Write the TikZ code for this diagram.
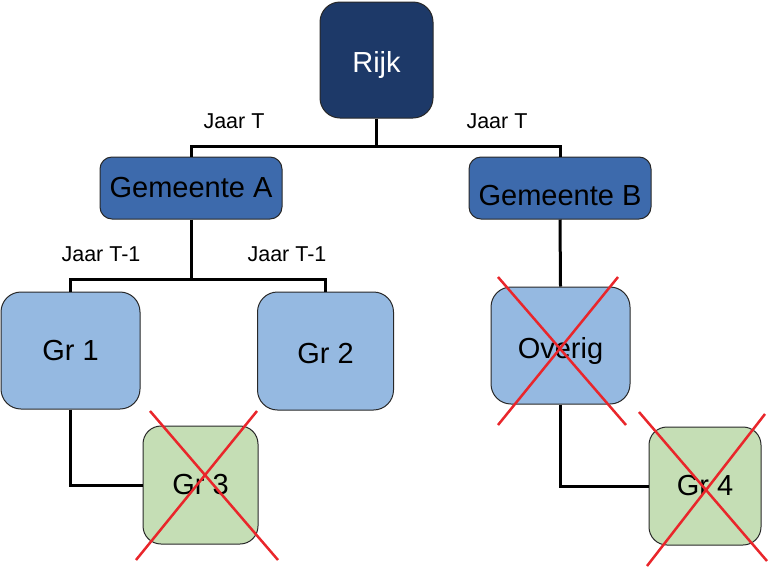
\documentclass[tikz,border=0pt]{standalone}
\usepackage{fontspec}
\setmainfont{Liberation Sans}
\definecolor{rijkc}{RGB}{29,57,104}
\definecolor{gemc}{RGB}{61,106,172}
\definecolor{grc}{RGB}{149,185,225}
\definecolor{greenc}{RGB}{197,222,181}
\definecolor{crossc}{RGB}{233,38,43}
\definecolor{edgec}{RGB}{40,40,40}
\tikzset{
  box/.style={draw=edgec, line width=1pt, inner sep=0pt, font=\fontsize{29}{32}\selectfont},
  rijkbox/.style={box, fill=rijkc, text=white, rounded corners=20pt},
  gembox/.style={box, fill=gemc, text=black, rounded corners=12pt},
  grbox/.style={box, fill=grc, text=black, rounded corners=20pt},
  greenbox/.style={box, fill=greenc, text=black, rounded corners=18pt},
  conn/.style={draw=black, line width=3pt},
  lbl/.style={font=\fontsize{21.5}{24}\selectfont, inner sep=0pt},
  crossline/.style={draw=crossc, line width=2.5pt}
}
\begin{document}
\begin{tikzpicture}[x=1pt,y=-1pt]
\useasboundingbox (0,0) rectangle (770,568);
% nodes
\node[rijkbox, minimum width=113pt, minimum height=116pt, text height=24pt, text depth=0pt] (rijk) at (376.5,60) {Rijk};
\node[gembox, minimum width=182pt, minimum height=62pt] (gA) at (191,188) {Gemeente A};
\node[gembox, minimum width=182pt, minimum height=62pt, text height=34pt, text depth=0pt] (gB) at (560,188) {Gemeente B};
\node[grbox, minimum width=139pt, minimum height=117pt] (gr1) at (70.5,350.5) {Gr 1};
\node[grbox, minimum width=136pt, minimum height=118pt, text height=24pt, text depth=0pt] (gr2) at (325.5,351) {Gr 2};
\node[grbox, minimum width=139pt, minimum height=117pt, text height=26pt, text depth=0pt] (ov) at (560.5,345.5) {Overig};
\node[greenbox, minimum width=115pt, minimum height=118pt] (gr3) at (200.5,485) {Gr 3};
\node[greenbox, minimum width=112pt, minimum height=118pt] (gr4) at (705,486) {Gr 4};
% junctions
\coordinate (j1) at (376.5,146);
\coordinate (j2) at (191,279);
% connectors
\draw[conn] (rijk.south) -- (j1);
\draw[conn] (gA.north) -- (gA.north |- j1) -| (gB.north);
\draw[conn] (gA.south) -- (j2);
\draw[conn] (gr1.north) -- (gr1.north |- j2) -| (gr2.north);
\draw[conn] (gB.south) -- (ov.north);
\draw[conn] (gr1.south) |- (gr3.west);
\draw[conn] (ov.south) |- (gr4.west);
% labels
\node[lbl] (l1) at (234,121) {Jaar T};
\node[lbl] (l2) at (497,121) {Jaar T};
\node[lbl] (l3) at (101,254) {Jaar T-1};
\node[lbl] (l4) at (287,254) {Jaar T-1};
% crosses
\draw[crossline] (498,277) -- (626,425);
\draw[crossline] (618,277) -- (498,425);
\draw[crossline] (150,411) -- (278,560);
\draw[crossline] (257,411) -- (136,560);
\draw[crossline] (639,412) -- (767,561);
\draw[crossline] (765,414) -- (647,566);
\end{tikzpicture}
\end{document}
